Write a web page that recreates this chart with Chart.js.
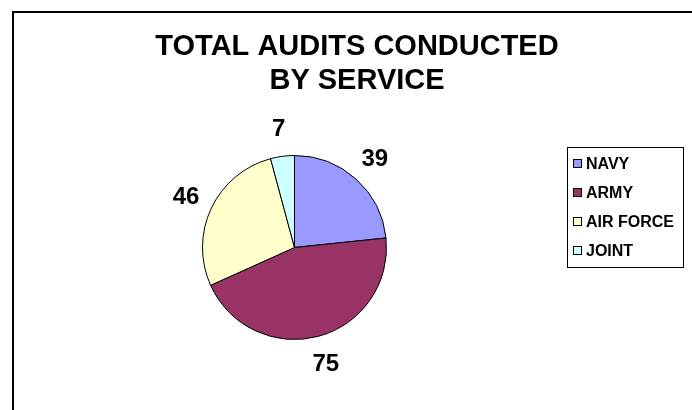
<!DOCTYPE html>
<html>
<head>
<meta charset="utf-8">
<script src="https://cdn.jsdelivr.net/npm/chart.js@4.4.1/dist/chart.umd.min.js"></script>
<style>
  html, body { margin:0; padding:0; background:#fff; }
  #wrap { width:692px; height:410px; position:relative; }
</style>
</head>
<body>
<div id="wrap"><canvas id="c" width="692" height="410"></canvas></div>
<script>
const services = ['NAVY', 'ARMY', 'AIR FORCE', 'JOINT'];
const audits   = [39, 75, 46, 7];
const colors   = ['#9999FF', '#993366', '#FFFFCC', '#CCFFFF'];
const titleLines = ['TOTAL AUDITS CONDUCTED', 'BY SERVICE'];

// frame, title, value labels and legend box drawn on the canvas
const decor = {
  id: 'decor',
  afterDraw(chart) {
    const ctx = chart.ctx;
    ctx.save();
    // frame (top + left edges only)
    ctx.strokeStyle = '#000';
    ctx.lineWidth = 2;
    ctx.beginPath();
    ctx.moveTo(12, 12); ctx.lineTo(692, 12);
    ctx.moveTo(13, 11); ctx.lineTo(13, 410);
    ctx.stroke();

    // title
    ctx.fillStyle = '#000';
    ctx.font = 'bold 29px "Liberation Sans", Arial, sans-serif';
    ctx.textAlign = 'center';
    ctx.textBaseline = 'middle';
    ctx.fillText(titleLines[0], 357, 47);
    ctx.fillText(titleLines[1], 357, 81);

    // value labels outside the slices
    const meta = chart.getDatasetMeta(0);
    ctx.font = 'bold 24px "Liberation Sans", Arial, sans-serif';
    meta.data.forEach((arc, i) => {
      const p = arc.getProps(['x','y','startAngle','endAngle','outerRadius'], true);
      const mid = (p.startAngle + p.endAngle) / 2;
      const d = p.outerRadius + 28;
      ctx.fillText(String(audits[i]), p.x + Math.cos(mid) * d, p.y + Math.sin(mid) * d + 1);
    });

    // legend
    ctx.lineWidth = 1;
    ctx.strokeStyle = '#000';
    ctx.strokeRect(567.5, 147.5, 116, 120);
    ctx.font = 'bold 16px "Liberation Sans", Arial, sans-serif';
    ctx.textAlign = 'left';
    services.forEach((s, i) => {
      const y = 164 + i * 29;
      ctx.fillStyle = colors[i];
      ctx.fillRect(573.5, y - 4.5, 8, 8);
      ctx.strokeRect(573.5, y - 4.5, 8, 8);
      ctx.fillStyle = '#000';
      ctx.fillText(s, 586, y + 1);
    });
    ctx.restore();
  }
};

new Chart(document.getElementById('c'), {
  type: 'pie',
  data: {
    labels: services,
    datasets: [{ data: audits, backgroundColor: colors, borderColor: '#000', borderWidth: 1, hoverOffset: 0 }]
  },
  options: {
    responsive: false,
    animation: false,
    layout: { padding: { left: 202, top: 155, right: 305, bottom: 70 } },
    plugins: { legend: { display: false }, title: { display: false }, tooltip: { enabled: false } }
  },
  plugins: [decor]
});
</script>
</body>
</html>
